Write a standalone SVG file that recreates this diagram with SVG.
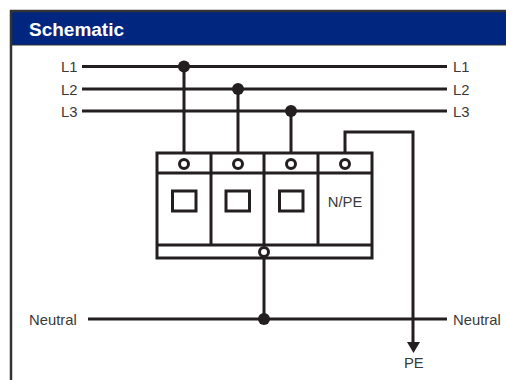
<svg xmlns="http://www.w3.org/2000/svg" width="506" height="380" viewBox="0 0 506 380">
<style>
text{font-family:"Liberation Sans",Arial,sans-serif;font-size:14.8px;fill:#3a3a3a}
.w{fill:none;stroke:#231f20;stroke-width:3}
.b{fill:none;stroke:#231f20;stroke-width:3}
.t{fill:#fff;stroke:#231f20;stroke-width:3}
.d{fill:#231f20}
</style>
<rect width="506" height="380" fill="#fff"/>
<g id="frame">
<rect x="11" y="12" width="495" height="33" fill="#00267f"/>
<path d="M506 11H11V380" fill="none" stroke="#333" stroke-width="2.5"/>
<path d="M12 45H506" stroke="#333" stroke-width="1"/>
<text x="29" y="36" style="font-size:19px;font-weight:bold;fill:#fff">Schematic</text>
</g>
<g id="connectors">
<path class="w" d="M82 66.500H447M82 89H447M82 111H447M88 319H447"/>
<path class="w" d="M184 66.500V153M238 89V153M291 111V153M345 153V132H413V344M264 258V319"/>
<circle class="d" cx="184" cy="66.500" r="6"/>
<circle class="d" cx="238" cy="89" r="6"/>
<circle class="d" cx="291" cy="111" r="6"/>
<circle class="d" cx="264" cy="319" r="6"/>
<path class="d" d="M407 342H420L413.500 353Z"/>
</g>
<g id="labels-left">
<text x="61" y="72">L1</text>
<text x="61" y="94.500">L2</text>
<text x="61" y="117">L3</text>
<text x="29" y="325">Neutral</text>
</g>
<g id="labels-right">
<text x="453" y="72">L1</text>
<text x="453" y="94.500">L2</text>
<text x="453" y="117">L3</text>
<text x="453" y="325">Neutral</text>
<text x="404" y="368">PE</text>
</g>
<g id="device">
<rect class="b" x="157" y="153" width="215" height="105"/>
<path class="b" d="M157 173H372M157 245H372M211 153V245M264 153V245M318 153V245"/>
<circle class="t" cx="184" cy="164" r="4.500"/>
<circle class="t" cx="238" cy="164" r="4.500"/>
<circle class="t" cx="291" cy="164" r="4.500"/>
<circle class="t" cx="345" cy="164" r="4.500"/>
<circle class="t" cx="264" cy="252" r="4.500"/>
<rect class="b" x="172.500" y="191" width="23.500" height="20"/>
<rect class="b" x="226" y="191" width="23.500" height="20"/>
<rect class="b" x="279.500" y="191" width="23.500" height="20"/>
<text x="345" y="207" text-anchor="middle">N/PE</text>
</g>
</svg>
